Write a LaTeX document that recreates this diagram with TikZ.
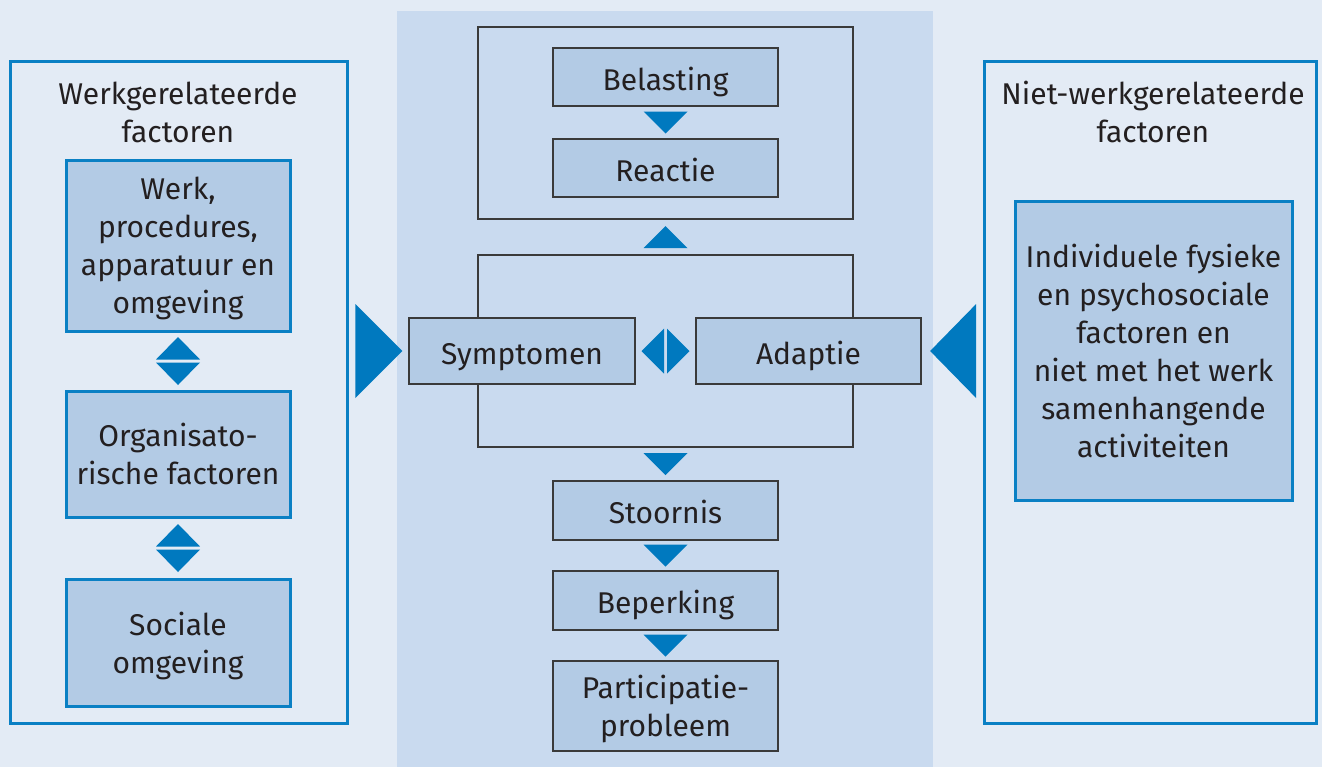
\documentclass[tikz,border=0pt]{standalone}
\usepackage{fontspec}
\setmainfont{Fira Sans}
\usepackage{xcolor}
\usetikzlibrary{calc}

\definecolor{pagebg}{HTML}{E3EBF5}
\definecolor{panelbg}{HTML}{C9DAEF}
\definecolor{boxfill}{HTML}{B3CBE5}
\definecolor{frameblue}{HTML}{0A80C4}
\definecolor{triblue}{HTML}{0079BF}
\definecolor{linegrey}{HTML}{3A3A3A}
\definecolor{textdark}{HTML}{231F20}

\newcommand{\diagfont}{\fontsize{15}{19}\selectfont}

\tikzset{
  outerbox/.style={draw=frameblue, line width=1.5pt, minimum width=#1, minimum height=331pt},
  boxtext/.style={align=center, text=textdark, font=\diagfont, text depth=0pt,
    execute at begin node={\rule{0pt}{13pt}}},
  factorbox/.style={boxtext, draw=frameblue, line width=1.5pt, fill=boxfill, minimum width=112pt},
  stagebox/.style={boxtext, draw=linegrey, line width=0.75pt, fill=boxfill, minimum width=112.5pt},
  stageframe/.style={draw=linegrey, line width=0.75pt, minimum width=187.5pt, minimum height=96pt},
  boxtitle/.style={align=center, text=textdark, font=\diagfont},
  tri/.style={fill=triblue},
}

% triangles between two nodes
\newcommand{\tridown}[2]{
  \coordinate (m) at ($(#1.south)!0.5!(#2.north)$);
  \fill[tri] (m) ++(-22,-11) -- ++(44,0) -- ++(-22,22) -- cycle;}
\newcommand{\triup}[2]{
  \coordinate (m) at ($(#1.south)!0.5!(#2.north)$);
  \fill[tri] (m) ++(-22,11) -- ++(44,0) -- ++(-22,-22) -- cycle;}
\newcommand{\trivert}[2]{
  \coordinate (m) at ($(#1.south)!0.5!(#2.north)$);
  \fill[tri] (m) ++(-22,-1.5) -- ++(44,0) -- ++(-22,-22.5) -- cycle;
  \fill[tri] (m) ++(-22,1.5) -- ++(44,0) -- ++(-22,22.5) -- cycle;}
\newcommand{\trihorz}[2]{
  \coordinate (m) at ($(#1.east)!0.5!(#2.west)$);
  \fill[tri] (m) ++(-1.5,-22.5) -- ++(0,45) -- ++(-22.5,-22.5) -- cycle;
  \fill[tri] (m) ++(1.5,-22.5) -- ++(0,45) -- ++(22.5,-22.5) -- cycle;}
\newcommand{\tribigright}[2]{
  \coordinate (m) at ($(#1.east)!0.5!(#2.west)$);
  \fill[tri] (m |- #2.west) ++(-23,-47) -- ++(0,94) -- ++(47,-47) -- cycle;}
\newcommand{\tribigleft}[2]{
  \coordinate (m) at ($(#1.east)!0.5!(#2.west)$);
  \fill[tri] (m |- #1.east) ++(24,-47) -- ++(0,94) -- ++(-46,-47) -- cycle;}

\begin{document}
\begin{tikzpicture}[x=0.5pt, y=-0.5pt]
    \fill[pagebg] (0,0) rectangle (1322,767);
    \fill[panelbg] (397,11) rectangle (933,767);

    \node[outerbox=168.5pt] (leftouter) at (178.5,392) {};
    \node[boxtitle] (lefttitle) at (178,112) {Werkgerelateerde\\factoren};
    \node[factorbox, minimum height=85.5pt] (werk) at (178,245.5) {Werk,\\procedures,\\apparatuur en\\omgeving};
    \node[factorbox, minimum height=63pt] (organisatie) at (178,454) {Organisato-\\rische factoren};
    \node[factorbox, minimum height=63.5pt] (sociaal) at (178,642.5) {Sociale\\omgeving};

    \node[stageframe] (topframe) at (665.5,123) {};
    \node[stageframe] (midframe) at (665.5,351) {};
    \node[stagebox, minimum height=29pt] (belasting) at (665.5,77) {Belasting};
    \node[stagebox, minimum height=29pt] (reactie) at (665.5,168) {Reactie};
    \node[stagebox, minimum width=113pt, minimum height=33pt] (symptomen) at (522,351) {Symptomen};
    \node[stagebox, minimum height=33pt] (adaptie) at (808.5,351) {Adaptie};
    \node[stagebox, minimum height=29.5pt] (stoornis) at (665.5,510.5) {Stoornis};
    \node[stagebox, minimum height=29.5pt] (beperking) at (665.5,600.5) {Beperking};
    \node[stagebox, minimum height=45pt] (participatie) at (665.5,706) {Participatie-\\probleem};

    \node[outerbox=166pt] (rightouter) at (1150,392) {};
    \node[boxtitle] (righttitle) at (1153,112) {Niet-werkgerelateerde\\factoren};
    \node[factorbox, minimum width=138.5pt, minimum height=149.5pt] (individueel) at (1153.5,350.5)
        {Individuele fysieke\\en psychosociale\\factoren en\\niet met het werk\\samenhangende\\activiteiten};

    \trivert{werk}{organisatie}
    \trivert{organisatie}{sociaal}
    \tridown{belasting}{reactie}
    \triup{topframe}{midframe}
    \trihorz{symptomen}{adaptie}
    \tridown{midframe}{stoornis}
    \tridown{stoornis}{beperking}
    \tridown{beperking}{participatie}
    \tribigright{leftouter}{symptomen}
    \tribigleft{adaptie}{rightouter}
\end{tikzpicture}
\end{document}
